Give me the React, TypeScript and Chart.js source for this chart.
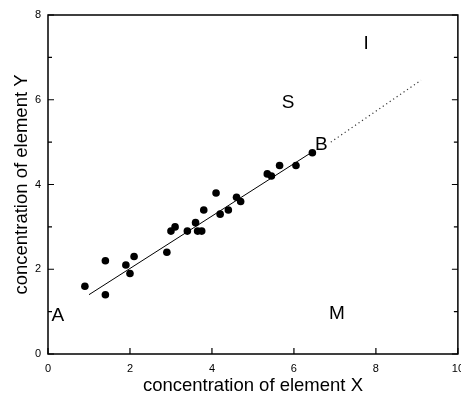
import React, { useEffect, useRef } from "react";
import { Chart, registerables } from "chart.js";

Chart.register(...registerables);

// Data
const xValues = [0.9, 1.4, 1.4, 1.9, 2.0, 2.1, 2.9, 3.0, 3.1, 3.4, 3.6, 3.65, 3.75, 3.8, 4.1, 4.2, 4.4, 4.6, 4.7, 5.35, 5.45, 5.65, 6.05, 6.45];
const yValues = [1.6, 2.2, 1.4, 2.1, 1.9, 2.3, 2.4, 2.9, 3.0, 2.9, 3.1, 2.9, 2.9, 3.4, 3.8, 3.3, 3.4, 3.7, 3.6, 4.25, 4.2, 4.45, 4.45, 4.75];

const fitSolidX = [1.0, 6.45];
const fitSolidY = [1.4, 4.77];
const fitDottedX = [6.9, 9.1];
const fitDottedY = [5.0, 6.46];

const regionLabels = ["A", "M", "S", "B", "I"];
const regionX = [0.24, 7.05, 5.86, 6.67, 7.76];
const regionY = [0.9, 0.94, 5.94, 4.94, 7.33];

const xTickValues = [0, 2, 4, 6, 8, 10];
const yTickValues = [0, 2, 4, 6, 8];
const yMinorTickValues = [1, 3, 5, 7];

const xTitle = "concentration of element X";
const yTitle = "concentration of element Y";

const FONT = "'Liberation Sans', Arial, Helvetica, sans-serif";

const framePlugin = {
  id: "frameAndLabels",
  afterDatasetsDraw(chart: any) {
    const { ctx, chartArea: a, scales } = chart;
    const sx = scales.x;
    const sy = scales.y;
    ctx.save();
    ctx.strokeStyle = "#000";
    ctx.lineWidth = 1.5;
    ctx.strokeRect(a.left, a.top, a.right - a.left, a.bottom - a.top);

    ctx.lineWidth = 1.2;
    ctx.beginPath();
    yTickValues.forEach((v) => {
      const py = sy.getPixelForValue(v);
      ctx.moveTo(a.left, py);
      ctx.lineTo(a.left + 6, py);
      ctx.moveTo(a.right, py);
      ctx.lineTo(a.right - 6, py);
    });
    yMinorTickValues.forEach((v) => {
      const py = sy.getPixelForValue(v);
      ctx.moveTo(a.left, py);
      ctx.lineTo(a.left + 4, py);
      ctx.moveTo(a.right, py);
      ctx.lineTo(a.right - 4, py);
    });
    xTickValues.forEach((v) => {
      const px = sx.getPixelForValue(v);
      ctx.moveTo(px, a.bottom);
      ctx.lineTo(px, a.bottom - 6);
    });
    ctx.stroke();

    ctx.fillStyle = "#000";
    ctx.font = `19px ${FONT}`;
    ctx.textAlign = "center";
    ctx.textBaseline = "middle";
    regionLabels.forEach((t, i) => {
      ctx.fillText(t, sx.getPixelForValue(regionX[i]), sy.getPixelForValue(regionY[i]));
    });
    ctx.restore();
  },
};

export default function App() {
  const canvasRef = useRef<HTMLCanvasElement | null>(null);

  useEffect(() => {
    const canvas = canvasRef.current;
    if (!canvas) return;
    const chart = new Chart(canvas, {
      type: "scatter",
      data: {
        datasets: [
          {
            label: "samples",
            data: xValues.map((x, i) => ({ x, y: yValues[i] })),
            backgroundColor: "#000",
            borderColor: "#000",
            borderWidth: 0,
            pointRadius: 3.8,
          },
          {
            label: "fit",
            data: fitSolidX.map((x, i) => ({ x, y: fitSolidY[i] })),
            showLine: true,
            borderColor: "#000",
            borderWidth: 1,
            pointRadius: 0,
          },
          {
            label: "extrapolation",
            data: fitDottedX.map((x, i) => ({ x, y: fitDottedY[i] })),
            showLine: true,
            borderColor: "#333",
            borderWidth: 1.2,
            borderDash: [1.2, 3],
            pointRadius: 0,
          },
        ],
      },
      options: {
        responsive: false,
        animation: false,
        devicePixelRatio: 1,
        layout: { padding: { top: 15, right: 12, left: 0, bottom: 0 } },
        plugins: {
          legend: { display: false },
          tooltip: { enabled: false },
        },
        scales: {
          x: {
            type: "linear",
            min: 0,
            max: 10,
            grid: { display: false, drawTicks: false },
            border: { display: false },
            ticks: {
              stepSize: 2,
              color: "#000",
              padding: 8,
              font: { family: FONT, size: 11 },
            },
            title: {
              display: true,
              text: xTitle,
              color: "#000",
              font: { family: FONT, size: 18.5, lineHeight: 1.2 },
              padding: { top: 0, bottom: 0 },
            },
            afterFit: (scale: any) => {
              scale.height = 43;
            },
          },
          y: {
            type: "linear",
            min: 0,
            max: 8,
            grid: { display: false, drawTicks: false },
            border: { display: false },
            ticks: {
              stepSize: 2,
              color: "#000",
              padding: 7,
              font: { family: FONT, size: 11 },
            },
            title: {
              display: true,
              text: yTitle,
              color: "#000",
              font: { family: FONT, size: 18.5, lineHeight: 1.2 },
              padding: { top: 11, bottom: 0 },
            },
            afterFit: (scale: any) => {
              scale.width = 48;
            },
          },
        },
      },
      plugins: [framePlugin],
    } as any);
    return () => chart.destroy();
  }, []);

  return (
    <div
      style={{
        position: "fixed",
        left: 0,
        top: 0,
        width: 461,
        height: 397,
        overflow: "hidden",
        background: "#fff",
      }}
    >
      <canvas ref={canvasRef} width={472} height={397} style={{ display: "block" }} />
    </div>
  );
}
